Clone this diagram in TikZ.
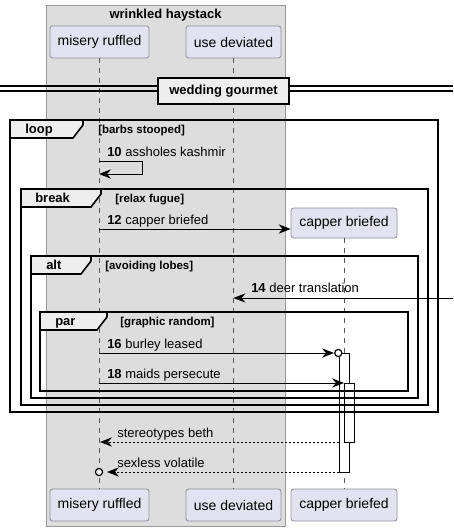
\documentclass[tikz,border=0pt]{standalone}
\usepackage{fontspec}
\setmainfont{Liberation Sans}
\usetikzlibrary{arrows.meta}
\definecolor{grpfill}{HTML}{DDDDDD}
\definecolor{grpdraw}{HTML}{999999}
\definecolor{partfill}{HTML}{E2E2F0}
\definecolor{partdraw}{HTML}{8E8E9E}
\definecolor{tabfill}{HTML}{EEEEEE}
\definecolor{lifec}{HTML}{555555}
\begin{document}
\begin{tikzpicture}[x=0.75pt,y=-0.75pt,
  part/.style={draw=partdraw,fill=partfill,rounded corners=2pt,line width=0.6pt,inner sep=0pt,
    font=\fontsize{10.5pt}{12pt}\selectfont},
  grpbox/.style={draw=grpdraw,fill=grpfill,line width=0.75pt},
  frm/.style={draw=black,line width=1.2pt},
  tabsh/.style={draw=black,fill=tabfill,line width=1.2pt},
  tablbl/.style={font=\bfseries\fontsize{9.75pt}{11pt}\selectfont,inner sep=0pt,anchor=mid west},
  guard/.style={font=\bfseries\fontsize{8.6pt}{10pt}\selectfont,inner sep=0pt,anchor=mid west},
  msg/.style={font=\fontsize{9.75pt}{11pt}\selectfont,inner sep=0pt,anchor=mid west},
  life/.style={draw=lifec,line width=0.6pt,dash pattern=on 3.75pt off 3.75pt},
  act/.style={draw=black,fill=white,line width=0.75pt},
  arr/.style={draw=black,line width=0.75pt,-{Stealth[length=9pt,width=7pt,inset=3pt]}},
  ret/.style={arr,dash pattern=on 1.5pt off 1.5pt},
  circ/.style={draw=black,fill=white,line width=0.9pt}
]
\useasboundingbox (0,0) rectangle (453,531);
\fill[white] (0,0) rectangle (453,531);
% group box
\path[grpbox] (46,6) rectangle (285,526);
\node[font=\bfseries\fontsize{9.75pt}{11pt}\selectfont,inner sep=0pt] (gtitle) at (165.5,15) {wrinkled haystack};
% participants
\node[part,minimum width=74.25pt,minimum height=24pt] (mr) at (99.5,42) {misery ruffled};
\node[part,minimum width=71.25pt,minimum height=24pt] (ud) at (233.5,42) {use deviated};
\node[part,minimum width=79.5pt,minimum height=22.5pt] (cb) at (344,223) {capper briefed};
\node[part,minimum width=74.25pt,minimum height=24pt] (mrb) at (99.5,505) {misery ruffled};
\node[part,minimum width=71.25pt,minimum height=24pt] (udb) at (233.5,505) {use deviated};
\node[part,minimum width=79.5pt,minimum height=24pt] (cbb) at (344,505) {capper briefed};
% lifelines
\draw[life] (99,58) -- (99,489);
\draw[life] (233,58) -- (233,489);
\draw[life] (344,238) -- (344,489);
% divider
\draw[line width=0.9pt] (0,86) -- (453,86);
\draw[line width=0.9pt] (0,91) -- (453,91);
\node[draw=black,fill=tabfill,line width=1.2pt,minimum width=98pt,minimum height=19.5pt,inner sep=0pt,
  font=\bfseries\fontsize{9.75pt}{11pt}\selectfont] (div) at (223.5,91) {wedding gourmet};
% activations
\path[act] (339.3,353) rectangle (349.3,472);
\path[act] (344.3,383) rectangle (354.3,442);
% message 10 (self)
\coordinate (s10a) at (99,161);
\coordinate (s10b) at (99,174);
\draw[arr] (s10a) -- (142,161) -- (142,174) -- (s10b);
\node[msg] (l10) at (107,153) {\textbf{10} assholes kashmir};
% message 12
\coordinate (s12) at (99,229);
\draw[arr] (s12) -- (cb.west |- s12);
\node[msg] (l12) at (107,221) {\textbf{12} capper briefed};
% message 14
\coordinate (s14a) at (453,298);
\coordinate (s14b) at (233.5,298);
\draw[arr] (s14a) -- (s14b);
\node[msg] (l14) at (251,289) {\textbf{14} deer translation};
% message 16
\coordinate (s16a) at (99,353);
\coordinate (s16b) at (334,353);
\draw[arr] (s16a) -- (s16b);
\path[circ] (338.3,353) circle (3.6);
\node[msg] (l16) at (107,345) {\textbf{16} burley leased};
% message 18
\coordinate (s18a) at (99,383);
\coordinate (s18b) at (344,383);
\draw[arr] (s18a) -- (s18b);
\node[msg] (l18) at (107,375) {\textbf{18} maids persecute};
% returns
\coordinate (r1a) at (339.3,442);
\coordinate (r1b) at (100,442);
\draw[ret] (r1a) -- (r1b);
\node[msg] (lr1) at (117,434) {stereotypes beth};
\coordinate (r2a) at (339.3,472);
\coordinate (r2b) at (107,472);
\draw[ret] (r2a) -- (r2b);
\path[circ] (99,472) circle (3.6);
\node[msg] (lr2) at (117,464) {sexless volatile};
% frames
\path[frm] (10,120) rectangle (438,412);
\path[tabsh] (10,120) -- (83,120) -- (83,125) -- (73,138) -- (10,138) -- cycle;
\node[tablbl] (floop) at (25,130) {loop};
\node[guard] (gloop) at (98,130) {[barbs stooped]};
\path[frm] (21,189) rectangle (428,405);
\path[tabsh] (21,189) -- (101,189) -- (101,194) -- (91,207) -- (21,207) -- cycle;
\node[tablbl] (fbreak) at (35,199) {break};
\node[guard] (gbreak) at (115,199) {[relax fugue]};
\path[frm] (31,256) rectangle (418,398);
\path[tabsh] (31,256) -- (91,256) -- (91,261) -- (81,274) -- (31,274) -- cycle;
\node[tablbl] (falt) at (46,266) {alt};
\node[guard] (galt) at (105,266) {[avoiding lobes]};
\path[frm] (40,312) rectangle (408,391);
\path[tabsh] (40,312) -- (107,312) -- (107,317) -- (97,330) -- (40,330) -- cycle;
\node[tablbl] (fpar) at (55,322) {par};
\node[guard] (gpar) at (120,322) {[graphic random]};
\end{tikzpicture}
\end{document}
